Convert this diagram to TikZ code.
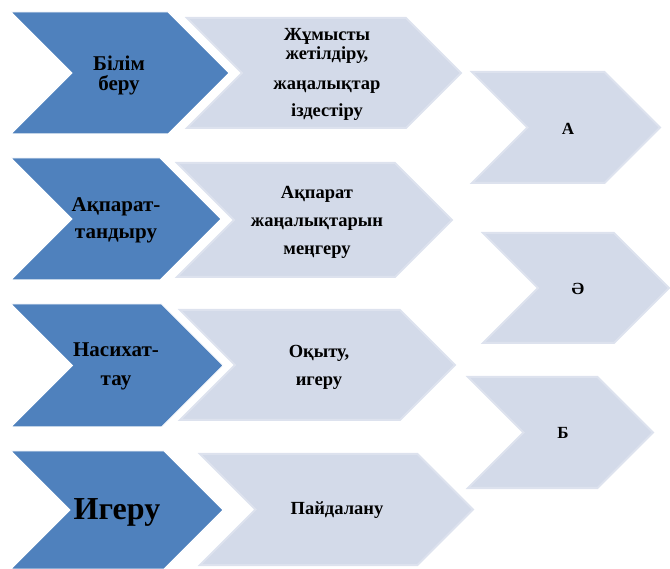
\documentclass[tikz,border=0pt]{standalone}
\usepackage{fontspec}
\setmainfont{Liberation Serif}
\definecolor{chevdark}{HTML}{4F81BD}
\definecolor{chevlight}{HTML}{D3DAE9}
\definecolor{chevedge}{HTML}{DDE2EE}
\tikzstyle{dark}=[fill=chevdark, draw=white, line width=1pt]
\tikzstyle{light}=[fill=chevlight, draw=chevedge, line width=2pt]
\tikzstyle{darktext}=[align=center, inner sep=0pt, font=\fontsize{21}{24}\selectfont\bfseries]
\tikzstyle{lighttext}=[align=center, inner sep=0pt, font=\fontsize{18.5}{24}\selectfont\bfseries]
\tikzstyle{lettertext}=[inner sep=0pt, font=\fontsize{17}{20}\selectfont\bfseries]
% chevron: style, left x, top y, tip x, bottom y
\newcommand{\chev}[5]{\path[#1] (#2,#3) -- ({#4-(#5-#3)/2},#3) -- (#4,{(#3+#5)/2})
  -- ({#4-(#5-#3)/2},#5) -- (#2,#5) -- ({#2+(#5-#3)/2},{(#3+#5)/2}) -- cycle;}

\begin{document}
\begin{tikzpicture}[x=1pt, y=-1pt]
\useasboundingbox (0,0) rectangle (670,569);

% light chevrons
\chev{light}{187}{18}{461}{128}
\chev{light}{177}{163}{452}{277}
\chev{light}{180}{310}{455}{420}
\chev{light}{200}{454}{473}{565}
\chev{light}{472}{72}{660}{183}
\chev{light}{483}{233}{669}{343}
\chev{light}{468}{377}{653}{488}

% dark chevrons
\chev{dark}{11}{12}{229}{134}
\chev{dark}{11}{158}{221}{280}
\chev{dark}{11}{304}{223}{427}
\chev{dark}{11}{451}{223}{569}

\node[darktext] (bilim) at (119,75) {Білім\\[-4pt]беру};
\node[darktext] (tandau) at (116,220) {Ақпарат-\\[3pt]тандыру};
\node[darktext] (nasihat) at (116,366) {Насихат-\\[5pt]тау};
\node[darktext, font=\fontsize{32}{34}\selectfont\bfseries] (igeru) at (117,512) {Игеру};

\node[lighttext] (zhumys) at (327,74) {Жұмысты\\[-5pt]жетілдіру,\\[6pt]жаңалықтар\\[3pt]іздестіру};
\node[lighttext] (akparat) at (317,222) {Ақпарат\\[4pt]жаңалықтарын\\[4pt]меңгеру};
\node[lighttext] (okytu) at (319,367) {Оқыту,\\[4pt]игеру};
\node[lighttext] (paidalanu) at (337,510) {Пайдалану};

\node[lettertext] (a) at (568,129) {А};
\node[lettertext] (ae) at (578,289) {Ә};
\node[lettertext] (b) at (563,433) {Б};
\end{tikzpicture}
\end{document}
